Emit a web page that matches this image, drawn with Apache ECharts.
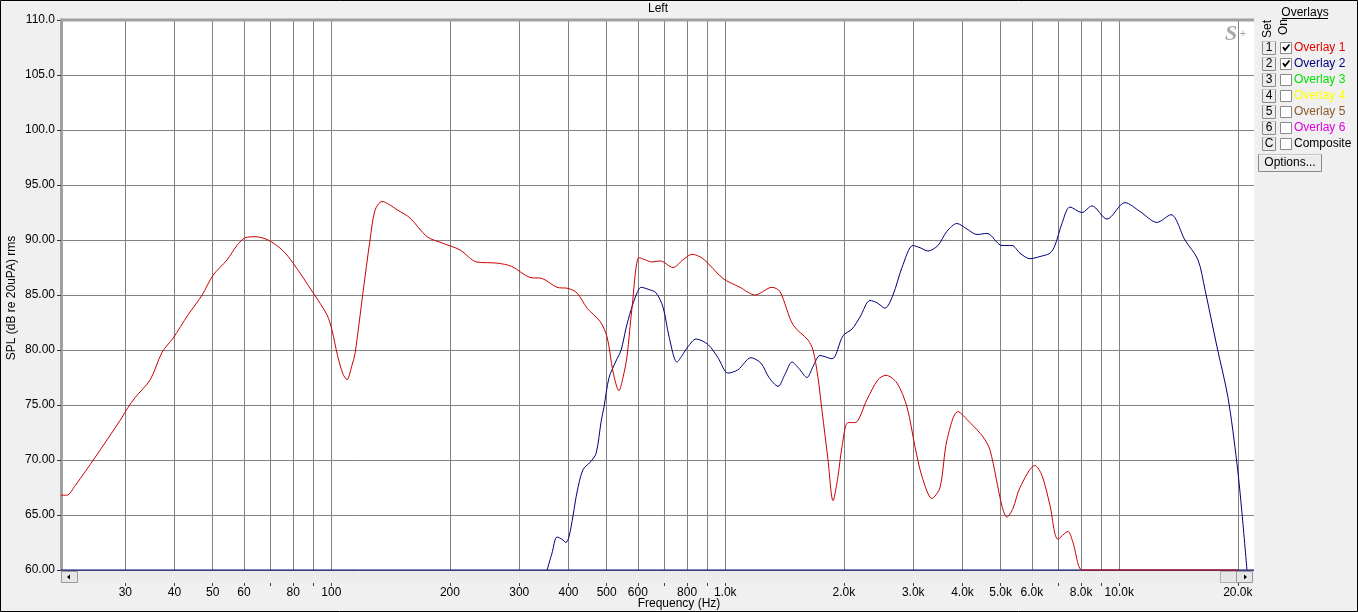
<!DOCTYPE html>
<html><head><meta charset="utf-8">
<script src="https://cdn.jsdelivr.net/npm/echarts@6/dist/echarts.min.js"></script>
<style>html,body{margin:0;padding:0;background:#f0f0f0;overflow:hidden;} #c{width:1358px;height:612px;}</style>
</head><body><div id="c"></div>
<script>
// ---- data (frequency in Hz, level in dB SPL) ----
const redFreq = [20.6,21.3,22.4,25.1,29.1,30.5,31.8,34.7,37.2,39.7,43.3,47.0,50.1,54.4,57.6,60.4,64.0,69.1,75.0,80.0,89.9,97.5,100.4,103.7,107.1,109.6,112.8,114.9,120.3,125.4,129.1,134.5,147.6,158.4,175,192,212,234,263,287,319,343,374,399,420,446,481,501,519,537,550,563,580,604,626,652,683,737,781,823,878,987,1090,1190,1314,1377,1485,1622,1670,1719,1760,1823,1877,1932,1978,2048,2134,2289,2441,2558,2728,2893,3031,3157,3346,3507,3653,3895,4179,4511,4699,5039,5188,5373,5598,6110,6365,6669,6989,7410,7630,8040,8600,12000,16000,20000];
const redDb = [66.8,66.8,67.7,70.2,73.6,74.8,75.7,77.3,79.8,81.1,83.2,85.0,86.8,88.2,89.5,90.2,90.3,90.0,89.1,87.9,85.2,83.2,81.8,79.5,77.8,77.3,78.6,79.7,85.2,90.0,92.7,93.5,92.7,92.0,90.3,89.7,89.1,88.0,87.9,87.6,86.6,86.5,85.7,85.6,85.2,83.8,82.6,81.2,78.0,76.3,77.5,79.4,83.9,88.4,88.2,88.0,88.1,87.5,88.2,88.7,88.3,86.5,85.7,85.0,85.7,85.3,82.3,80.9,80.0,77.5,74.5,70.0,66.3,68.5,71.2,73.4,73.4,75.5,77.3,77.7,77.0,74.8,71.2,68.5,66.5,67.5,71.8,74.4,73.4,72.1,70.9,65.8,64.8,65.6,67.5,69.5,68.6,65.9,62.8,63.5,62.5,60.0,60.0,60.0,60.0,60.0];

const blueFreq = [353,363,374,385,394,401,411,420,435,454,470,484,492,507,528,544,560,576,594,611,640,667,695,720,754,777,804,843,904,958,1016,1077,1162,1232,1291,1361,1418,1477,1539,1612,1670,1740,1866,1990,2097,2198,2330,2427,2543,2665,2809,2995,3121,3269,3466,3653,3873,4106,4354,4617,5039,5342,5598,5934,6293,6669,6867,7154,7496,8040,8523,9307,10340,11283,12465,13530,14682,15840,16502,17701,18875,19894,20486,21095];
const blueDb = [60.0,61.5,63.0,62.8,62.5,63.0,65.0,67.0,69.1,69.8,70.6,73.5,74.8,77.5,79.0,80.0,82.0,83.6,85.0,85.7,85.5,85.2,83.9,81.2,78.9,79.5,80.3,81.0,80.5,79.3,77.9,78.2,79.3,78.8,77.5,76.7,77.8,78.9,78.3,77.5,78.5,79.5,79.2,81.3,81.9,83.0,84.5,84.3,83.8,85.0,87.5,89.5,89.3,89.0,89.5,90.8,91.5,91.0,90.5,90.6,89.5,89.5,88.8,88.3,88.5,88.8,89.5,91.5,93.0,92.5,93.1,91.9,93.4,92.6,91.6,92.3,90.0,88.2,85.5,80.3,75.7,69.7,65.2,60.0];

const gridFreqs = [30,40,50,60,70,80,90,100,200,300,400,500,600,700,800,900,1000,2000,3000,4000,5000,6000,7000,8000,9000,10000,20000];
const labelFreqs = [30,40,50,60,80,100,200,300,400,500,600,800,1000,2000,3000,4000,5000,6000,8000,10000,20000];
const freqMin = 20.6, freqMax = 21980;
const dbMin = 60, dbMax = 110, dbStep = 5;

const overlayNames = ['Overlay 1','Overlay 2','Overlay 3','Overlay 4','Overlay 5','Overlay 6','Composite'];
const overlaySet = ['1','2','3','4','5','6','C'];
const overlayColors = ['#e00000','#00007a','#00e000','#ffff00','#8b5a2b','#e000e0','#000000'];
const overlayOn = [true,true,false,false,false,false,false];

// ---- build ----
const lg = Math.log10;
const FONT = '"Liberation Sans", Arial, sans-serif';
function fmtFreq(v){
  const f = Math.round(Math.pow(10, v));
  return f >= 1000 ? (f/1000).toFixed(1) + 'k' : String(f);
}
const redData = redFreq.map((f,i)=>[lg(f), redDb[i]]);
const blueData = blueFreq.map((f,i)=>[lg(f), blueDb[i]]);
const baseData = [[lg(freqMin), dbMin], [lg(freqMax), dbMin]];

const graphics = [];
// plot frame top
graphics.push({type:'line', shape:{x1:60, y1:20, x2:1254, y2:20}, style:{stroke:'#a0a0a0', lineWidth:3}, z:10});
// scrollbar
graphics.push({type:'rect', shape:{x:62, y:571, width:1192, height:12}, style:{fill:'#ececec'}, z:5});
graphics.push({type:'rect', shape:{x:61.5, y:571.5, width:16, height:11}, style:{fill:'#e6e6e6', stroke:'#9a9a9a', lineWidth:1}, z:6});
graphics.push({type:'polygon', shape:{points:[[67,577],[70,574.5],[70,579.5]]}, style:{fill:'#000'}, z:7});
graphics.push({type:'rect', shape:{x:1220.5, y:571.5, width:16, height:11}, style:{fill:'#e6e6e6', stroke:'#b0b0b0', lineWidth:1}, z:6});
graphics.push({type:'rect', shape:{x:1236.5, y:571.5, width:16, height:11}, style:{fill:'#e6e6e6', stroke:'#9a9a9a', lineWidth:1}, z:6});
graphics.push({type:'polygon', shape:{points:[[1247,577],[1244,574.5],[1244,579.5]]}, style:{fill:'#000'}, z:7});
// title and axis names
graphics.push({type:'text', x:658, y:9, style:{text:'Left', x:0, y:0, align:'center', verticalAlign:'middle', textAlign:'center', textVerticalAlign:'middle', font:'12px '+FONT, fill:'#000'}});
graphics.push({type:'text', x:679, y:604, style:{text:'Frequency (Hz)', x:0, y:0, align:'center', verticalAlign:'middle', textAlign:'center', textVerticalAlign:'middle', font:'12px '+FONT, fill:'#000'}});
graphics.push({type:'text', x:12, y:298, rotation:Math.PI/2, style:{text:'SPL (dB re 20uPA) rms', x:0, y:0, align:'center', verticalAlign:'middle', textAlign:'center', textVerticalAlign:'middle', font:'12px '+FONT, fill:'#000'}});
// S+ logo
graphics.push({type:'text', x:1231, y:34, style:{text:'S', x:0, y:0, align:'center', verticalAlign:'middle', textAlign:'center', textVerticalAlign:'middle', font:'italic bold 22px "Liberation Serif", serif', fill:'#a8a8a8'}, z:10});
graphics.push({type:'text', x:1243, y:34, style:{text:'+', x:0, y:0, align:'center', verticalAlign:'middle', textAlign:'center', textVerticalAlign:'middle', font:'11px '+FONT, fill:'#a8a8a8'}, z:10});
// overlay panel
graphics.push({type:'text', x:1305, y:13, style:{text:'Overlays', x:0, y:0, align:'center', verticalAlign:'middle', textAlign:'center', textVerticalAlign:'middle', font:'12px '+FONT, fill:'#000'}});
graphics.push({type:'line', shape:{x1:1282, y1:18.5, x2:1328, y2:18.5}, style:{stroke:'#000', lineWidth:1}});
graphics.push({type:'text', x:1268, y:29, rotation:Math.PI/2, style:{text:'Set', x:0, y:0, align:'center', verticalAlign:'middle', textAlign:'center', textVerticalAlign:'middle', font:'12px '+FONT, fill:'#000'}});
graphics.push({type:'text', x:1284, y:27, rotation:Math.PI/2, style:{text:'On', x:0, y:0, align:'center', verticalAlign:'middle', textAlign:'center', textVerticalAlign:'middle', font:'12px '+FONT, fill:'#000'}});
overlayNames.forEach((name,i)=>{
  const cy = 48 + i*16;
  graphics.push({type:'rect', shape:{x:1262.5, y:cy-6.5, width:13, height:13}, style:{fill:'#ececec', stroke:'#8a8a8a', lineWidth:1}});
  graphics.push({type:'line', shape:{x1:1263, y1:cy-6, x2:1275, y2:cy-6}, style:{stroke:'#ffffff', lineWidth:1}});
  graphics.push({type:'text', x:1269, y:cy, style:{text:overlaySet[i], x:0, y:0, align:'center', verticalAlign:'middle', textAlign:'center', textVerticalAlign:'middle', font:'12px '+FONT, fill:'#000'}});
  graphics.push({type:'rect', shape:{x:1280.5, y:cy-5.5, width:11, height:11}, style:{fill:'#ffffff', stroke:'#8a8a8a', lineWidth:1}});
  if (overlayOn[i]) {
    graphics.push({type:'polyline', shape:{points:[[1283,cy-1],[1285,cy+2],[1289.5,cy-3.5]]}, style:{stroke:'#000', lineWidth:1.8, fill:null}});
  }
  graphics.push({type:'text', x:1294, y:cy, style:{text:name, x:0, y:0, align:'left', verticalAlign:'middle', textAlign:'left', textVerticalAlign:'middle', font:'12px '+FONT, fill:overlayColors[i]}});
});
graphics.push({type:'rect', shape:{x:1258.5, y:154.5, width:63, height:17}, style:{fill:'#ececec', stroke:'#8a8a8a', lineWidth:1}});
graphics.push({type:'line', shape:{x1:1259, y1:155, x2:1321, y2:155}, style:{stroke:'#ffffff', lineWidth:1}});
graphics.push({type:'text', x:1290, y:163, style:{text:'Options...', x:0, y:0, align:'center', verticalAlign:'middle', textAlign:'center', textVerticalAlign:'middle', font:'12px '+FONT, fill:'#000'}});
// outer border
graphics.push({type:'rect', shape:{x:0.5, y:0.5, width:1357, height:611}, style:{fill:null, stroke:'#000', lineWidth:1}, z:20});

const chart = echarts.init(document.getElementById('c'), null, {renderer:'canvas'});
chart.setOption({
  animation:false,
  backgroundColor:'#f0f0f0',
  textStyle:{fontFamily:FONT},
  grid:{left:61, top:20, width:1193, height:550, show:true, backgroundColor:'#ffffff', borderWidth:0, containLabel:false},
  xAxis:{
    type:'value', min:lg(freqMin), max:lg(freqMax), offset:13,
    axisLine:{show:false},
    axisTick:{show:true, length:3, customValues:gridFreqs.map(lg), lineStyle:{color:'#404040'}},
    axisLabel:{show:true, customValues:labelFreqs.map(lg), formatter:fmtFreq, margin:4, fontSize:12, color:'#000', fontFamily:FONT},
    splitLine:{show:true, lineStyle:{color:'#808080', width:1}}
  },
  yAxis:{
    type:'value', min:dbMin, max:dbMax, interval:dbStep,
    axisLine:{show:true, lineStyle:{color:'#a0a0a0', width:3}},
    axisTick:{show:true, length:4, lineStyle:{color:'#303050'}},
    axisLabel:{formatter:v=> v>=100 ? v.toFixed(1) : v.toFixed(2), margin:6, fontSize:12, color:'#000', fontFamily:FONT},
    splitLine:{show:true, lineStyle:{color:'#808080', width:1}}
  },
  series:[
    {type:'line', name:'baseline', data:baseData, showSymbol:false, clip:false, silent:true, z:1,
     lineStyle:{color:'#00007a', width:1}},
    {type:'line', name:'Overlay 2', data:blueData, showSymbol:false, smooth:0.3, clip:false, z:2,
     lineStyle:{color:'#00007a', width:1}, itemStyle:{color:'#00007a'}},
    {type:'line', name:'Overlay 1', data:redData, showSymbol:false, smooth:0.3, clip:false, z:3,
     lineStyle:{color:'#cc0000', width:1}, itemStyle:{color:'#cc0000'}}
  ],
  graphic:graphics
});
</script></body></html>
